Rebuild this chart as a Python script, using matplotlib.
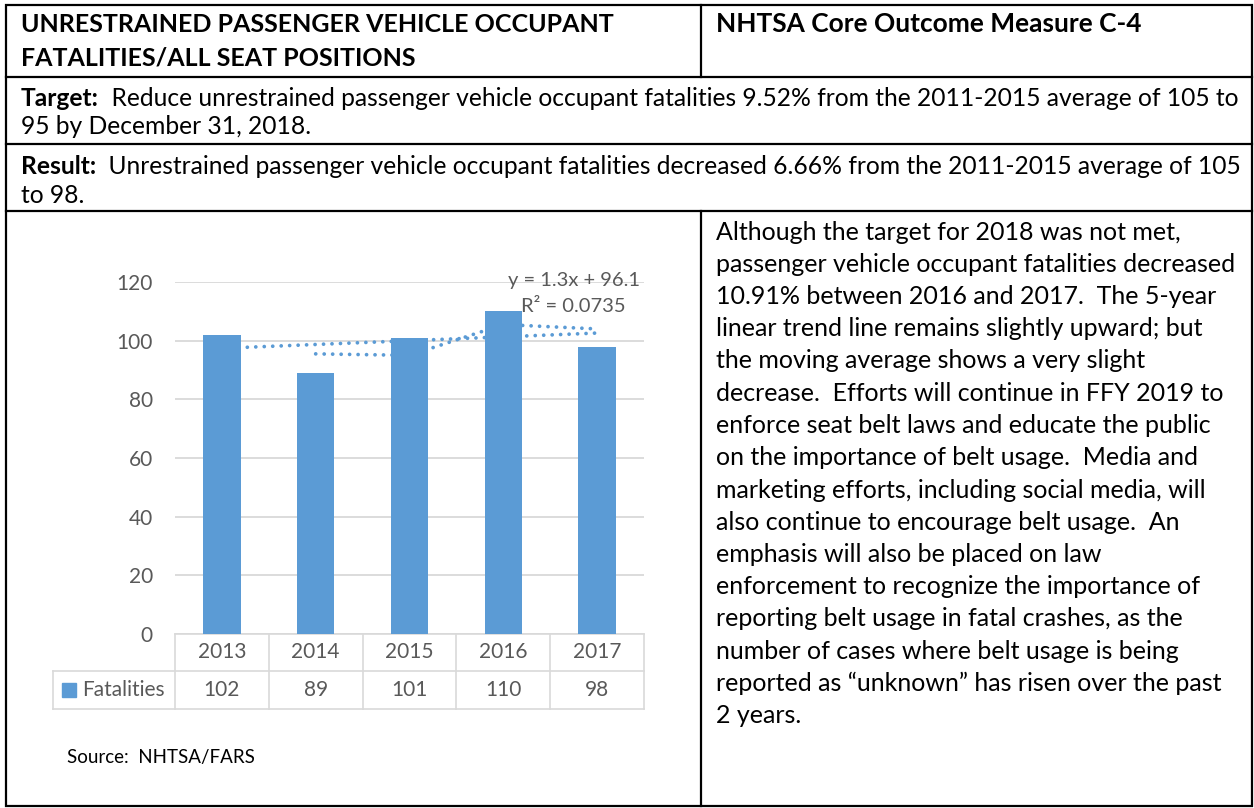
#!/usr/bin/env python3
# -*- coding: utf-8 -*-

"""Unrestrained passenger vehicle occupant fatalities, C-4 report card"""

import numpy as np
import matplotlib
matplotlib.use('Agg')
import matplotlib.pyplot as plt
from matplotlib import transforms
from matplotlib.patches import Rectangle

# Data
years = ['2013', '2014', '2015', '2016', '2017']
fatalities = [102, 89, 101, 110, 98]
series_name = 'Fatalities'

title_left = ['UNRESTRAINED PASSENGER VEHICLE OCCUPANT', 'FATALITIES/ALL SEAT POSITIONS']
title_right = 'NHTSA Core Outcome Measure C-4'
target_lines = ['Reduce unrestrained passenger vehicle occupant fatalities 9.52% from the 2011-2015 average of 105 to',
                '95 by December 31, 2018.']
result_lines = ['Unrestrained passenger vehicle occupant fatalities decreased 6.66% from the 2011-2015 average of 105',
                'to 98.']
notes = [
    'Although the target for 2018 was not met,',
    'passenger vehicle occupant fatalities decreased',
    '10.91% between 2016 and 2017.  The 5-year',
    'linear trend line remains slightly upward; but',
    'the moving average shows a very slight',
    'decrease.  Efforts will continue in FFY 2019 to',
    'enforce seat belt laws and educate the public',
    'on the importance of belt usage.  Media and',
    'marketing efforts, including social media, will',
    'also continue to encourage belt usage.  An',
    'emphasis will also be placed on law',
    'enforcement to recognize the importance of',
    'reporting belt usage in fatal crashes, as the',
    'number of cases where belt usage is being',
    'reported as \u201cunknown\u201d has risen over the past',
    '2 years.',
]
source = 'Source:  NHTSA/FARS'

BLUE = '#5B9BD5'
GREY_TXT = '#595959'
GREY_LN = '#D9D9D9'

plt.rcParams['font.family'] = ['Lato', 'DejaVu Sans']

W, H = 1254, 808
fig = plt.figure(figsize=(W / 100, H / 100), dpi=100)
renderer = fig.canvas.get_renderer()

# Page in pixel coordinates for the table frame and the text
pg = fig.add_axes([0, 0, 1, 1])
pg.set_xlim(0, W)
pg.set_ylim(H, 0)
pg.axis('off')

lw = 1.6
pg.add_patch(Rectangle((6, 5), 1246, 801, fill=False, lw=lw, ec='black'))
for yy in (77, 144, 211):
    pg.plot([6, 1252], [yy, yy], color='black', lw=lw)
pg.plot([701, 701], [5, 77], color='black', lw=lw)
pg.plot([701, 701], [211, 806], color='black', lw=lw)

hsize = 18
pg.text(21, 32, title_left[0], fontsize=hsize, weight='bold', va='baseline')
pg.text(21, 65, title_left[1], fontsize=hsize, weight='bold', va='baseline')
pg.text(716, 32, title_right, fontsize=18.9, weight='bold', va='baseline')


def labelled(x, y, label, rest, size):
    """Bold label followed by plain text on the same baseline"""
    lab = pg.text(x, y, label, fontsize=size, weight='bold', va='baseline')
    bb = lab.get_window_extent(renderer)
    xr = pg.transData.inverted().transform((bb.x1, bb.y0))[0]
    pg.text(xr, y, rest, fontsize=size, va='baseline')


bsize = 17.7
labelled(21, 106.5, 'Target:', '  ' + target_lines[0], bsize)
pg.text(21, 134.5, target_lines[1], fontsize=bsize, va='baseline')
labelled(21, 174, 'Result:', '  ' + result_lines[0], bsize)
pg.text(21, 203, result_lines[1], fontsize=bsize, va='baseline')

for i, line in enumerate(notes):
    pg.text(716, 232 + 32.25 * i, line, fontsize=18, va='center')

pg.text(67, 757, source, fontsize=13.5, va='center')

# Chart area: plot box
x0, x1, ytop, ybot = 175, 644, 282, 634
ax = fig.add_axes([x0 / W, (H - ybot) / H, (x1 - x0) / W, (ybot - ytop) / H])
ax.set_facecolor('none')
ind = np.arange(len(years))
ax.set_xlim(-0.5, len(years) - 0.5)
ax.set_ylim(0, 120)
ax.set_yticks(range(0, 121, 20))
ax.set_xticks([])
ax.tick_params(axis='y', length=0, pad=16, labelsize=15, labelcolor=GREY_TXT)
for s in ax.spines.values():
    s.set_visible(False)
ax.grid(axis='y', color=GREY_LN, lw=1.3, zorder=0)
ax.set_axisbelow(True)

ax.bar(ind, fatalities, width=0.4, color=BLUE, zorder=3)

# Trend lines (Excel: linear + 2 period moving average), drawn behind the bars
xs = ind + 1
slope, icpt = np.polyfit(xs, fatalities, 1)
fit = slope * xs + icpt
r2 = 1 - np.sum((np.array(fatalities) - fit) ** 2) / np.sum((np.array(fatalities) - np.mean(fatalities)) ** 2)
dots = dict(color=BLUE, lw=2.7, linestyle=(0, (0.01, 2.25)), dash_capstyle='round', zorder=2)
ax.plot(ind, fit, **dots)
mavg = np.convolve(fatalities, [0.5, 0.5], mode='valid')
ax.plot(ind[1:], mavg, **dots)

ax.text(3.75, 120.4, 'y = %.1fx + %.1f' % (slope, icpt), ha='center', va='center', fontsize=14.5, color=GREY_TXT)
ax.text(3.75, 111.5, 'R\u00b2 = %.4f' % r2, ha='center', va='center', fontsize=14.5, color=GREY_TXT)

# Data table under the chart
tr = transforms.blended_transform_factory(ax.transData, ax.transAxes)
ph = ybot - ytop
r1 = -37 / ph
r2b = -75 / ph
cat_px = (x1 - x0) / len(years)
leg_x = -0.5 - (x0 - 53) / cat_px
tl = dict(color=GREY_LN, lw=1.2, clip_on=False, transform=tr, zorder=1)
ax.plot([-0.5, 4.5], [0, 0], **tl)
ax.plot([leg_x, 4.5], [r1, r1], **tl)
ax.plot([leg_x, 4.5], [r2b, r2b], **tl)
for k in range(len(years) + 1):
    ax.plot([k - 0.5, k - 0.5], [0, r2b], **tl)
ax.plot([leg_x, leg_x], [r1, r2b], **tl)

for i, (yr, v) in enumerate(zip(years, fatalities)):
    ax.text(i, r1 / 2, yr, transform=tr, ha='center', va='center', fontsize=15, color=GREY_TXT)
    ax.text(i, (r1 + r2b) / 2, str(v), transform=tr, ha='center', va='center', fontsize=15, color=GREY_TXT)

ax.add_patch(Rectangle((leg_x + 9 / cat_px, (r1 + r2b) / 2 - 7 / ph), 14 / cat_px, 14 / ph,
                       transform=tr, color=BLUE, clip_on=False))
ax.text(leg_x + 29 / cat_px, (r1 + r2b) / 2, series_name, transform=tr, ha='left', va='center',
        fontsize=15, color=GREY_TXT)

fig.savefig('out.png', dpi=100)
